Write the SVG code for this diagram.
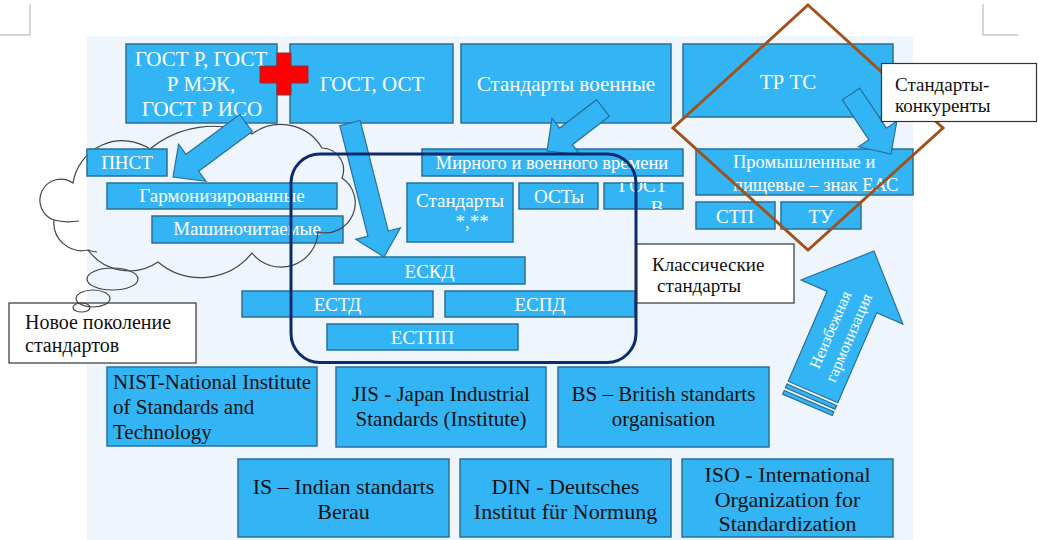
<svg xmlns="http://www.w3.org/2000/svg" width="1038" height="540" viewBox="0 0 1038 540" font-family="'Liberation Serif', 'Times New Roman', 'DejaVu Serif', serif">
<style>
.box{fill:#33B5F5;stroke:#2A6F96;stroke-width:1.5}
.arr{fill:#33B5F5;stroke:#2A6F96;stroke-width:1.2}
text{font-family:'Liberation Serif','Times New Roman','DejaVu Serif',serif}
.w{fill:#fff}
.d{fill:#111}
.lbl{fill:#fff;stroke:#333;stroke-width:1.2}
.cl{fill:none;stroke:#444;stroke-width:1.2}
.mark{fill:none;stroke:#C8C8C8;stroke-width:1.5}
.s18{font-size:18.5px}.s19{font-size:19px}.s20{font-size:20px}.s21{font-size:21px}.s22{font-size:22px}
</style>
<defs>
<clipPath id="cgv"><rect x="604" y="183" width="79" height="26"/></clipPath>
</defs>
<path class="mark" d="M30,4 V35 H0 M983,4 V35 H1018"/>
<rect x="87" y="36" width="826" height="504" fill="#EEF5FC"/>

<g id="n-mashinochitaemye"><rect class="box" x="152" y="216" width="191" height="27"/><text class="w s19" x="247" y="235" text-anchor="middle">Машиночитаемые</text></g>

<g id="cloud">
<path class="cl" d="M54,220 A21,21 0 1 1 73,183 A50,50 0 0 1 150,149 A100,100 0 0 1 252,134 A48,48 0 0 1 322,148 A22,22 0 0 1 342,178 A30,30 0 0 1 318,232 A37,37 0 0 1 252,253 A66,66 0 0 1 158,262 A51,51 0 0 1 88,250 A28,28 0 0 1 54,220 Z"/>
<path class="cl" d="M54,220 Q64,223 79,221 M88,250 Q93,252 97,252"/>
</g>

<g id="n-gost-r"><rect class="box" x="126" y="44" width="151" height="79"/><text class="w s21" text-anchor="middle"><tspan x="201" y="66">ГОСТ Р, ГОСТ</tspan><tspan x="201" y="91">Р МЭК,</tspan><tspan x="202" y="116">ГОСТ Р ИСО</tspan></text></g>
<g id="n-gost-ost"><rect class="box" x="290" y="44" width="163" height="79"/><text class="w s21" x="372" y="91" text-anchor="middle">ГОСТ, ОСТ</text></g>
<g id="n-voennye"><rect class="box" x="461" y="44" width="210" height="79"/><text class="w s21" x="566" y="91" text-anchor="middle">Стандарты военные</text></g>
<g id="n-trts"><rect class="box" x="683" y="44" width="210" height="73"/><text class="w s21" x="788" y="89" text-anchor="middle">ТР ТС</text></g>
<g id="n-pnst"><rect class="box" x="87" y="149" width="80" height="27"/><text class="w s19" x="127" y="169" text-anchor="middle">ПНСТ</text></g>
<g id="n-garm"><rect class="box" x="107" y="183" width="230" height="26"/><text class="w s19" x="222" y="202" text-anchor="middle">Гармонизированные</text></g>
<g id="n-mirnogo"><rect class="box" x="422" y="149" width="261" height="27"/><text class="w s18" x="552" y="169" text-anchor="middle">Мирного и военного времени</text></g>
<g id="n-standarty"><rect class="box" x="407" y="183" width="106" height="59"/><text class="w s19" text-anchor="middle"><tspan x="460" y="207">Стандарты</tspan><tspan x="472" y="228">*,**</tspan></text></g>
<g id="n-osty"><rect class="box" x="519" y="183" width="79" height="26"/><text class="w s19" x="559" y="203" text-anchor="middle">ОСТы</text></g>
<g id="n-gostv"><rect class="box" x="604" y="183" width="79" height="26"/><text class="w s19" text-anchor="middle" clip-path="url(#cgv)"><tspan x="643" y="192">ГОСТ</tspan><tspan x="657" y="214">В</tspan></text></g>
<g id="n-prom"><rect class="box" x="696" y="149" width="217" height="46"/><text class="w s18"><tspan x="733" y="168">Промышленные и</tspan><tspan x="733" y="191">пищевые – знак ЕАС</tspan></text></g>
<g id="n-stp"><rect class="box" x="696" y="202" width="79" height="27"/><text class="w s19" x="735" y="223" text-anchor="middle">СТП</text></g>
<g id="n-tu"><rect class="box" x="781" y="202" width="80" height="27"/><text class="w s19" x="821" y="223" text-anchor="middle">ТУ</text></g>
<g id="n-eskd"><rect class="box" x="334" y="257" width="191" height="27"/><text class="w s19" x="429.5" y="278" text-anchor="middle">ЕСКД</text></g>
<g id="n-estd"><rect class="box" x="242" y="291" width="191" height="26"/><text class="w s19" x="337.5" y="311" text-anchor="middle">ЕСТД</text></g>
<g id="n-espd"><rect class="box" x="445" y="291" width="190" height="26"/><text class="w s19" x="540" y="311" text-anchor="middle">ЕСПД</text></g>
<g id="n-estpp"><rect class="box" x="327" y="324" width="191" height="26"/><text class="w s19" x="422.5" y="344" text-anchor="middle">ЕСТПП</text></g>
<g id="n-nist"><rect class="box" x="107" y="367" width="210" height="79"/><text class="d s21"><tspan x="113" y="389">NIST-National Institute</tspan><tspan x="113" y="414">of Standards and</tspan><tspan x="113" y="439">Technology</tspan></text></g>
<g id="n-jis"><rect class="box" x="336" y="367" width="210" height="80"/><text class="d s21" text-anchor="middle"><tspan x="441" y="401">JIS - Japan Industrial</tspan><tspan x="441" y="426">Standards (Institute)</tspan></text></g>
<g id="n-bs"><rect class="box" x="558" y="367" width="211" height="80"/><text class="d s21" text-anchor="middle"><tspan x="663.5" y="401">BS – British standarts</tspan><tspan x="663.5" y="426">organisation</tspan></text></g>
<g id="n-is"><rect class="box" x="238" y="459" width="211" height="78"/><text class="d s22" text-anchor="middle"><tspan x="343.5" y="494">IS – Indian standarts</tspan><tspan x="343.5" y="519">Berau</tspan></text></g>
<g id="n-din"><rect class="box" x="460" y="459" width="211" height="78"/><text class="d s22" text-anchor="middle"><tspan x="565.5" y="494">DIN - Deutsches</tspan><tspan x="565.5" y="519">Institut für Normung</tspan></text></g>
<g id="n-iso"><rect class="box" x="682" y="459" width="211" height="78"/><text class="d s22" text-anchor="middle"><tspan x="787.5" y="482">ISO -  International</tspan><tspan x="787.5" y="507">Organization for</tspan><tspan x="787.5" y="531">Standardization</tspan></text></g>

<g id="connectors">
<path class="arr" transform="translate(246,123) rotate(143.5)" d="M0,-10.5 H66.8 V-23 L90.8,0 L66.8,23 V10.5 H0 Z"/>
<path class="arr" transform="translate(350,123) rotate(75.76)" d="M0,-10.5 H114.2 V-23 L138.2,0 L114.2,23 V10.5 H0 Z"/>
<path class="arr" transform="translate(603,108) rotate(142.5)" d="M0,-10.5 H46.6 V-23 L70.6,0 L46.6,23 V10.5 H0 Z"/>
<path class="arr" transform="translate(851,94) rotate(56.3)" d="M0,-10.5 H48.1 V-23 L72.1,0 L48.1,23 V10.5 H0 Z"/>
</g>

<g id="n-harmonization" transform="translate(813,392) rotate(-66.6)">
<path class="arr" d="M0,-27 H98 V-55.5 L153.6,0 L98,55.5 V27 H0 Z"/>
<rect class="arr" x="-7" y="-27" width="4" height="54"/>
<rect class="arr" x="-14" y="-27" width="4" height="54"/>
<text class="w" font-size="16" text-anchor="middle"><tspan x="64" y="-3.5">Неизбежная</tspan><tspan x="64" y="16.5">гармонизация</tspan></text>
</g>

<g id="cross"><path d="M277,53 H291 V66 H308 V83 H291 V95 H277 V83 H260 V66 H277 Z" fill="#FF0000" stroke="#7A3A3A" stroke-width="1"/></g>

<g id="classic-frame"><rect x="291" y="154" width="345" height="208.5" rx="29" fill="none" stroke="#0D2A6E" stroke-width="3"/></g>
<g id="competitors-frame"><path d="M808,5 L943,128 L808,250 L673,128 Z" fill="none" stroke="#A0521E" stroke-width="3"/></g>

<g id="n-konkurenty"><rect class="lbl" x="881.5" y="63.5" width="155" height="58"/><text class="d s19"><tspan x="895" y="91">Стандарты-</tspan><tspan x="895" y="112">конкуренты</tspan></text></g>
<g id="n-klassicheskie"><rect class="lbl" x="637" y="244" width="157" height="59"/><text class="d s19"><tspan x="652" y="271">Классические</tspan><tspan x="657" y="292">стандарты</tspan></text></g>
<g id="n-novoe"><rect class="lbl" x="9" y="303" width="187" height="60"/><text class="d s20"><tspan x="25" y="329">Новое поколение</tspan><tspan x="25" y="352">стандартов</tspan></text></g>

<g id="bubbles">
<ellipse class="cl" cx="112.5" cy="279" rx="25.5" ry="11"/>
<ellipse class="cl" cx="93" cy="298.5" rx="17" ry="8.5"/>
<ellipse class="cl" cx="81.5" cy="307.5" rx="8.5" ry="4.5"/>
</g>
</svg>
